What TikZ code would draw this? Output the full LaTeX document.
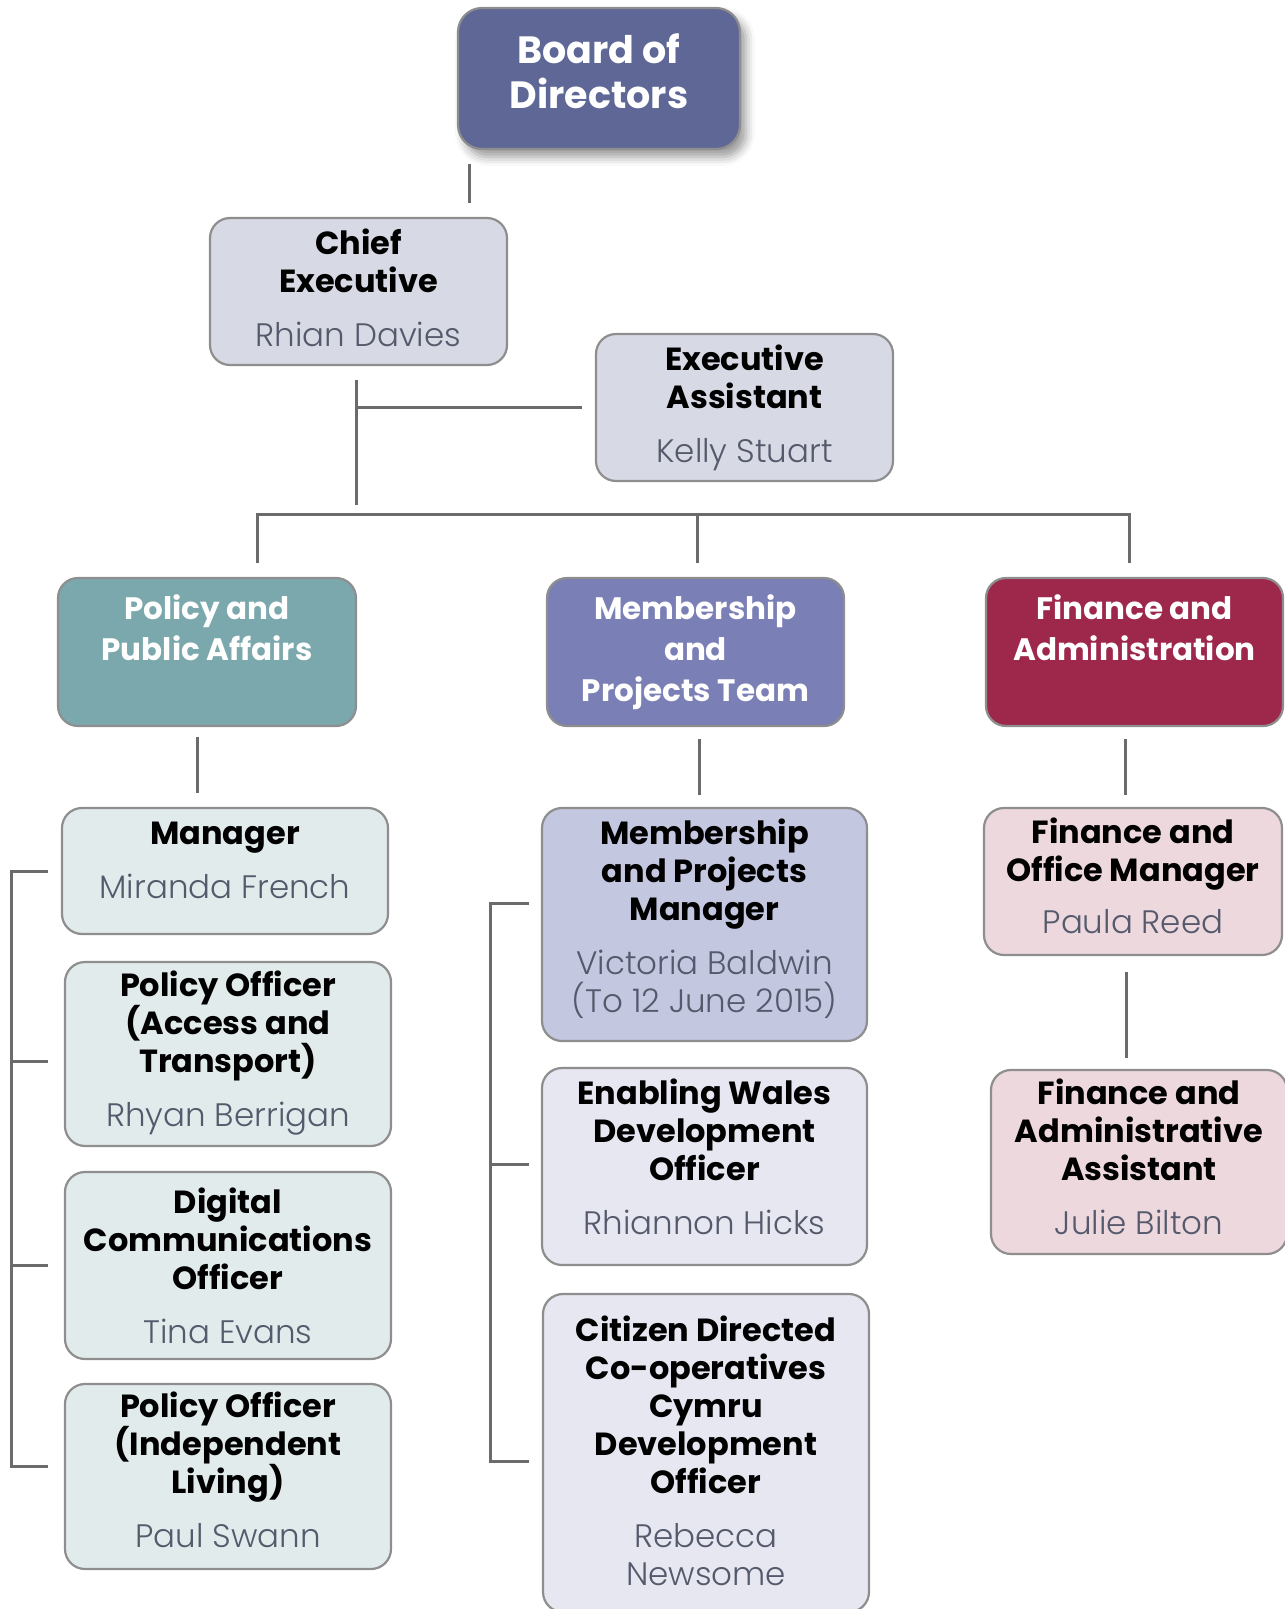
\documentclass[tikz,border=0pt]{standalone}
\usepackage{fontspec}
\setmainfont{Poppins}
\newfontfamily\namefont{Poppins Light}
\usetikzlibrary{positioning, shadows.blur}

\definecolor{boardblue}{RGB}{94,103,150}
\definecolor{chiefgray}{RGB}{215,217,228}
\definecolor{policyteal}{RGB}{123,168,172}
\definecolor{memberblue}{RGB}{122,127,181}
\definecolor{financered}{RGB}{158,40,76}
\definecolor{policylight}{RGB}{226,235,236}
\definecolor{memberpm}{RGB}{196,199,224}
\definecolor{memberlight}{RGB}{230,231,240}
\definecolor{financelight}{RGB}{237,216,221}
\definecolor{namegray}{RGB}{84,90,108}
\definecolor{boxedge}{RGB}{142,142,142}
\definecolor{linkgray}{RGB}{107,107,107}

\newcommand{\nm}[1]{{\namefont\mdseries\fontsize{32.5}{41}\selectfont\color{namegray}#1}}
\newcommand{\raiseby}[1]{\rule[-#1]{0pt}{0pt}}

\begin{document}
\begin{tikzpicture}[x=1pt, y=-1pt, node distance=200pt, box/.style={rectangle, rounded corners=20pt, draw=boxedge, line width=2.2pt, align=center, inner sep=4pt, font=\bfseries\fontsize{32}{38}\selectfont}, head/.style={box, fill=boardblue, text=white, minimum width=282pt, minimum height=141pt, rounded corners=24pt, font=\bfseries\fontsize{38}{45}\selectfont, blur shadow={shadow xshift=6pt, shadow yshift=-8pt, shadow blur radius=9pt, shadow opacity=40}}, staff/.style={box, fill=chiefgray, minimum width=297pt, minimum height=147pt}, team/.style={box, text=white, minimum width=297pt, minimum height=148pt, font=\bfseries\fontsize{31}{41}\selectfont}, link/.style={draw=linkgray, line width=3pt}]

  \useasboundingbox (0,0) rectangle (1285,1609);

  \node[head] (board) at (599,78.5) {Board of\\Directors\raiseby{15pt}};
  \node[staff, below of=board, node distance=213pt, xshift=-240.5pt] (chief) {Chief\\Executive\\[16pt]\nm{Rhian Davies}\raiseby{8pt}};
  \node[staff, below of=chief, node distance=116pt, xshift=386pt] (assist) {Executive\\Assistant\\[16pt]\nm{Kelly Stuart}\raiseby{4pt}};

  \node[team, fill=memberblue, below of=board, node distance=573.5pt, xshift=96.5pt] (member) {Membership\\and\\Projects Team\raiseby{6pt}};
  \node[team, fill=policyteal, left of=member, node distance=488.5pt, minimum width=298pt] (policy) {Policy and\\Public Affairs\\[8pt]~};
  \node[team, fill=financered, right of=member, node distance=439pt] (finance) {Finance and\\Administration\\[8pt]~};

  \node[box, fill=policylight, minimum width=326pt, minimum height=126pt, below of=policy, node distance=219pt, xshift=18pt] (manager) {Manager\\[16pt]\nm{Miranda French}\raiseby{22pt}};
  \node[box, fill=policylight, minimum width=326pt, minimum height=184pt, below of=manager, node distance=183pt, xshift=3pt] (access) {Policy Officer\\(Access and\\Transport)\\[16pt]\nm{Rhyan Berrigan}\raiseby{11pt}};
  \node[box, fill=policylight, minimum width=326pt, minimum height=187pt, below of=access, node distance=211.5pt] (digital) {Digital\\Communications\\Officer\\[16pt]\nm{Tina Evans}};
  \node[box, fill=policylight, minimum width=326pt, minimum height=185pt, below of=digital, node distance=211pt] (living) {Policy Officer\\(Independent\\Living)\\[16pt]\nm{Paul Swann}\raiseby{13pt}};

  \node[box, fill=memberpm, minimum width=325pt, minimum height=233pt, below of=member, node distance=272.5pt, xshift=9pt] (projmgr) {Membership\\and Projects\\Manager\\[16pt]\nm{Victoria Baldwin}\\\nm{(To 12 June 2015)}\raiseby{18pt}};
  \node[box, fill=memberlight, minimum width=325pt, minimum height=197pt, below of=projmgr, node distance=242pt] (wales) {Enabling Wales\\Development\\Officer\\[16pt]\nm{Rhiannon Hicks}\raiseby{19pt}};
  \node[box, fill=memberlight, minimum width=326pt, minimum height=318pt, below of=wales, node distance=286.5pt, xshift=1.5pt] (citizen) {Citizen Directed\\Co-operatives\\Cymru\\Development\\Officer\\[16pt]\nm{Rebecca}\\\nm{Newsome}\raiseby{5pt}};

  \node[box, fill=financelight, minimum width=298pt, minimum height=147pt, below of=finance, node distance=229.5pt, xshift=-1.5pt] (officemgr) {Finance and\\Office Manager\\[14pt]\nm{Paula Reed}\raiseby{11pt}};
  \node[box, fill=financelight, minimum width=296pt, minimum height=184pt, below of=officemgr, node distance=280.5pt, xshift=6pt] (finasst) {Finance and\\Administrative\\Assistant\\[16pt]\nm{Julie Bilton}\raiseby{10pt}};

  \coordinate (boardtop) at (469,164);
  \coordinate (boardbot) at (469,203);
  \coordinate (chieftop) at (356,380);
  \coordinate (chiefbot) at (356,505);
  \coordinate (chiefmid) at (356,407);
  \coordinate (assistend) at (582,407);
  \coordinate (busleft) at (257,563);
  \coordinate (busmid) at (697,563);
  \coordinate (busright) at (1129,563);
  \coordinate (policytop) at (197,737);
  \coordinate (policybot) at (197,793);
  \coordinate (membertop) at (699,739);
  \coordinate (memberbot) at (699,795);
  \coordinate (financetop) at (1125,739);
  \coordinate (financebot) at (1125,795);
  \coordinate (officetop) at (1126,972);
  \coordinate (officebot) at (1126,1058);
  \coordinate (lefttop) at (48,871);
  \coordinate (leftbot) at (48,1466);
  \coordinate (midtop) at (529,903);
  \coordinate (midbot) at (529,1461);

  \draw[link] (boardtop) -- (boardbot);
  \draw[link] (chieftop) -- (chiefbot);
  \draw[link] (chiefmid) -- (assistend);
  \draw[link] (busleft) -- ++(0,-49) -| (busright);
  \draw[link] (busmid) -- ++(0,-49);
  \draw[link] (policytop) -- (policybot);
  \draw[link] (membertop) -- (memberbot);
  \draw[link] (financetop) -- (financebot);
  \draw[link] (officetop) -- (officebot);
  \draw[link] (lefttop) -- ++(-37,0) |- (leftbot);
  \draw[link] (11,1061) -- ++(37,0);
  \draw[link] (11,1265) -- ++(37,0);
  \draw[link] (midtop) -- ++(-39,0) |- (midbot);
  \draw[link] (490,1164) -- ++(39,0);
  \end{tikzpicture}
\end{document}
